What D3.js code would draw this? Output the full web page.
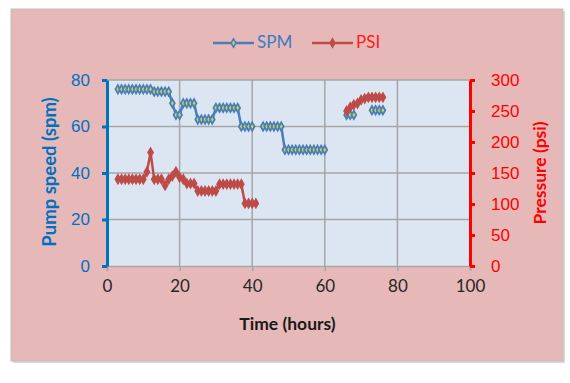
<!DOCTYPE html>
<html><head><meta charset="utf-8">
<script src="https://cdn.jsdelivr.net/npm/d3@7"></script>
<style>
html,body{margin:0;padding:0;background:#fff;}
svg{display:block;font-family:Lato,"Open Sans",sans-serif;}
</style></head>
<body><svg id="c" width="570" height="383"></svg>
<script>
// ---- data ----
const xTicks = [0, 20, 40, 60, 80, 100];
const spmTicks = [0, 20, 40, 60, 80];
const psiTicks = [0, 50, 100, 150, 200, 250, 300];

const spmTime = [3,4,5,6,7,8,9,10,11,12,13,14,15,16,17,18,19,20,21,22,23,24,25,26,27,28,29,30,31,32,33,34,35,36,37,38,39,40,
  null, 43,44,45,46,47,48,49,50,51,52,53,54,55,56,57,58,59,60, null, 66,67,68, null, 73,74,75,76];
const spmValue = [76,76,76,76,76,76,76,76,76,76,75,75,75,75,75,70,65,65,70,70,70,70,63,63,63,63,63,68,68,68,68,68,68,68,60,60,60,60,
  null, 60,60,60,60,60,60,50,50,50,50,50,50,50,50,50,50,50,50, null, 65,65,65, null, 67,67,67,67];

const psiTime = [3,4,5,6,7,8,9,10,11,12,13,14,15,16,17,18,19,20,21,22,23,24,25,26,27,28,29,30,31,32,33,34,35,36,37,38,39,40,41,
  null, 66,67,68,69,70,71,72,73,74,75,76];
const psiValue = [140,140,140,140,140,140,140,140,152,183,140,140,140,130,140,145,152,143,140,133,133,133,121,121,121,121,121,121,132,132,132,132,132,132,132,101,101,101,101,
  null, 250,256,260,262,268,270,272,272,272,272,272];

// ---- layout ----
const svg = d3.select("#c");
const L = 107, R = 470, T = 80, B = 266;

// outer background
svg.append("rect").attr("x",13).attr("y",11).attr("width",552).attr("height",352).attr("fill","#d9d9d9");
svg.append("rect").attr("x",11).attr("y",9).attr("width",552).attr("height",352)
  .attr("fill","#e6b9b8").attr("stroke","#bfbfbf").attr("stroke-width",1);

const x = d3.scaleLinear().domain([0,100]).range([L,R]);
const yL = d3.scaleLinear().domain([0,80]).range([B,T]);
const yR = d3.scaleLinear().domain([0,300]).range([B,T]);

// plot area
svg.append("rect").attr("x",L).attr("y",T).attr("width",R-L).attr("height",B-T).attr("fill","#dce6f2");

// gridlines
svg.append("g").selectAll("line").data(spmTicks.slice(1)).join("line")
  .attr("x1",L).attr("x2",R).attr("y1",d=>yL(d)).attr("y2",d=>yL(d))
  .attr("stroke","#a6a6a6").attr("stroke-width",1.5);
svg.append("g").selectAll("line").data(xTicks.slice(1,-1)).join("line")
  .attr("x1",d=>x(d)).attr("x2",d=>x(d)).attr("y1",T).attr("y2",B)
  .attr("stroke","#a6a6a6").attr("stroke-width",1.5);

// x axis
const gx = svg.append("g").attr("transform",`translate(0,${B})`)
  .call(d3.axisBottom(x).tickValues(xTicks).tickSize(5).tickPadding(9).tickFormat(d3.format("d")));
gx.select(".domain").attr("stroke","#a6a6a6").attr("stroke-width",1.5);
gx.selectAll(".tick line").attr("stroke","#a6a6a6").attr("stroke-width",1.5);
gx.selectAll("text").attr("font-size",17).attr("fill","#262626").attr("font-family","Lato,sans-serif");

// left axis
const gl = svg.append("g").attr("transform",`translate(${L},0)`)
  .call(d3.axisLeft(yL).tickValues(spmTicks).tickSize(5).tickPadding(12).tickSizeOuter(0));
gl.select(".domain").attr("stroke","#0070c0").attr("stroke-width",3);
gl.selectAll(".tick line").attr("stroke","#0070c0").attr("stroke-width",3);
gl.selectAll("text").attr("font-size",17).attr("fill","#0070c0");

// right axis
const gr = svg.append("g").attr("transform",`translate(${R},0)`)
  .call(d3.axisRight(yR).tickValues(psiTicks).tickSize(5).tickPadding(16).tickSizeOuter(0));
gr.select(".domain").attr("stroke","#ff0000").attr("stroke-width",3);
gr.selectAll(".tick line").attr("stroke","#ff0000").attr("stroke-width",3);
gr.selectAll("text").attr("font-size",17).attr("fill","#ff0000");

// axis titles
svg.append("text").attr("transform",`translate(51,${(T+B)/2 - 1}) rotate(-90)`)
  .attr("text-anchor","middle").attr("dominant-baseline","middle")
  .attr("font-size",18.5).attr("font-weight","bold").attr("fill","#0070c0").text("Pump speed (spm)");
svg.append("text").attr("transform",`translate(542,${(T+B)/2}) rotate(-90)`)
  .attr("text-anchor","middle").attr("dominant-baseline","middle")
  .attr("font-size",17.5).attr("font-weight","bold").attr("fill","#ff0000").text("Pressure (psi)");
svg.append("text").attr("x",(L+R)/2 - 1).attr("y",330).attr("text-anchor","middle")
  .attr("font-size",17.5).attr("font-weight","bold").attr("fill","#1a1a1a").text("Time (hours)");

// series
const diamond = d3.symbol().type(d3.symbolDiamond).size(20);
function series(times, vals, yScale, lineColor, mFill, mStroke){
  const pts = times.map((t,i)=>({t, v: vals[i]}));
  const line = d3.line().defined(d=>d.t!==null && d.v!==null).x(d=>x(d.t)).y(d=>yScale(d.v));
  svg.append("path").datum(pts).attr("d",line).attr("fill","none")
    .attr("stroke",lineColor).attr("stroke-width",2.5).attr("stroke-linejoin","round");
  svg.append("g").selectAll("path").data(pts.filter(d=>d.t!==null)).join("path")
    .attr("d",diamond).attr("transform",d=>`translate(${x(d.t)},${yScale(d.v)})`)
    .attr("fill",mFill).attr("stroke",mStroke).attr("stroke-width",1.8);
}
series(spmTime, spmValue, yL, "#4a7ebb", "#c9d94c", "#4a7ebb");
series(psiTime, psiValue, yR, "#be4b48", "#be4b48", "#be4b48");

// legend
const lg = svg.append("g");
const legendItems = [{name:"SPM", x:213, line:"#4a7ebb", fill:"#c9d94c", text:"#3b7cc4"},
                     {name:"PSI", x:312, line:"#be4b48", fill:"#be4b48", text:"#ff1a1a"}];
legendItems.forEach(it=>{
  lg.append("line").attr("x1",it.x).attr("x2",it.x+41).attr("y1",43).attr("y2",43)
    .attr("stroke",it.line).attr("stroke-width",2.5);
  lg.append("path").attr("d",diamond).attr("transform",`translate(${it.x+20.5},43)`)
    .attr("fill",it.fill).attr("stroke",it.line).attr("stroke-width",1.6);
  lg.append("text").attr("x",it.x+44).attr("y",44).attr("dominant-baseline","middle")
    .attr("font-size",17).attr("fill",it.text).text(it.name);
});
</script></body></html>
